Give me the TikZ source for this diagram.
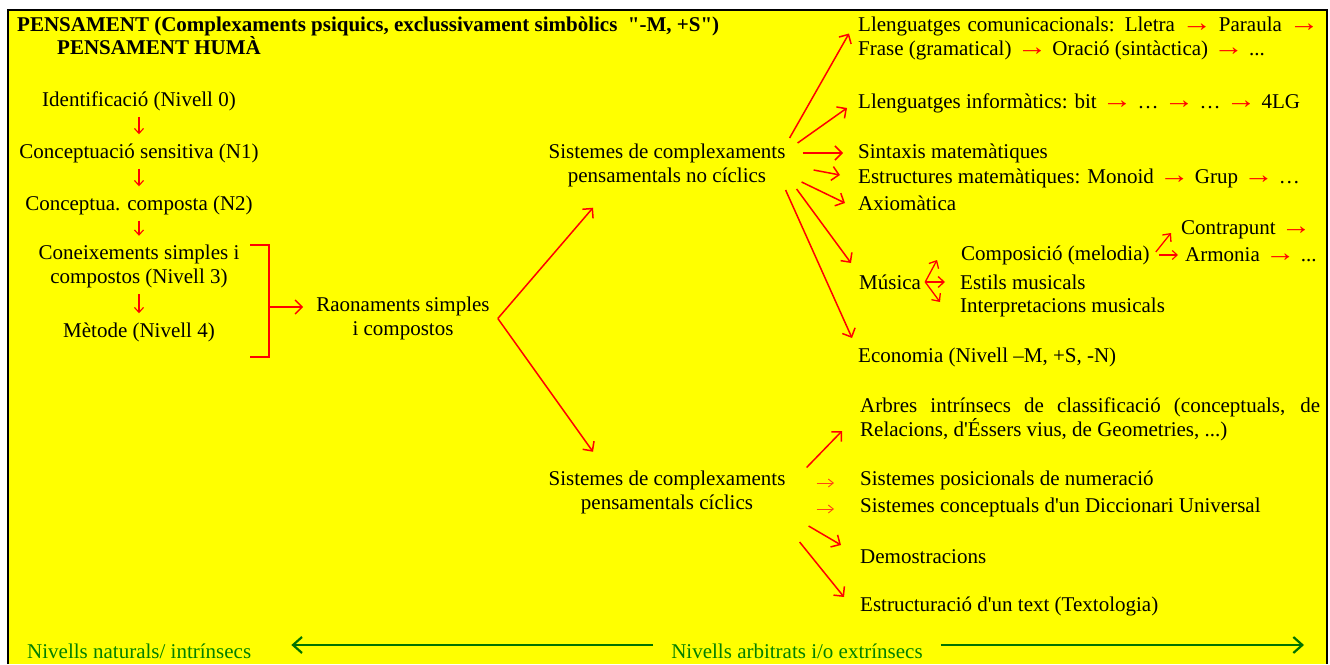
\documentclass[tikz,border=0pt]{standalone}
\usepackage{fontspec}
\setmainfont{Liberation Serif}[Ligatures=TeXOff]
\usetikzlibrary{arrows.meta}

\definecolor{fonsgroc}{RGB}{255,255,0}
\definecolor{verd}{RGB}{0,128,0}
\definecolor{verdfosc}{RGB}{0,115,0}
\definecolor{taronja}{RGB}{255,70,20}
\newcommand{\fl}{\textcolor{red}{\scalebox{1.45}[1.25]{→}}}

\tikzset{
  txt/.style={anchor=west},
  bigarrow/.style={draw=red, line width=1.5pt, -{Straight Barb[length=7pt,width=14pt]}},
  midarrow/.style={draw=red, line width=1.3pt, -{Straight Barb[length=6pt,width=11pt]}},
  smallarrow/.style={draw=red, line width=1.1pt, -{Straight Barb[length=5pt,width=9pt]}},
  thinarrow/.style={draw=taronja, line width=0.9pt, -{Straight Barb[length=5pt,width=8pt]}},
  greenarrow/.style={draw=verdfosc, line width=2.2pt, -{Straight Barb[length=9pt,width=16pt]}}
}

\begin{document}
\begin{tikzpicture}[x=1pt, y=1pt, every node/.style={inner sep=0pt, font=\fontsize{21}{24}\selectfont}]

  \useasboundingbox (0,0) rectangle (1330,-664);
  \fill[fonsgroc] (8,-10) rectangle (1327,-664);
  \draw[line width=2.5pt] (8,-664) -- (8,-10) -- (1327,-10) -- (1327,-664);

  \node[txt, font=\fontsize{21}{24}\selectfont\bfseries] (title) at (17,-26) {PENSAMENT (Complexaments psiquics, exclussivament simbòlics~ "-M, +S")};
  \node[txt, font=\fontsize{21}{24}\selectfont\bfseries] (human) at (57,-46) {PENSAMENT HUMÀ};

  % natural levels
  \node (n0) at (139,-101) {Identificació (Nivell 0)};
  \node (n1) at (139,-153) {Conceptuació sensitiva (N1)};
  \node (n2) at (139,-205) {Conceptua. composta (N2)};
  \node[align=center] (n3) at (139,-266.5) {Coneixements simples i\\compostos (Nivell 3)};
  \node (n4) at (139,-332) {Mètode (Nivell 4)};

  \foreach \a/\b in {n0/n1,n1/n2,n2/n3,n3/n4}
    \draw[smallarrow, shorten <=6pt, shorten >=9pt] (\a) -- (\b);

  \draw[red, line width=1.5pt] (250,-245) -| (269,-357) -- (250,-357);
  \coordinate (brk) at (269,-307);

  \node[align=center] (reason) at (403,-318.5) {Raonaments simples\\i compostos};
  \draw[bigarrow, shorten >=13pt] (brk) -- (brk -| reason.west);

  \coordinate (fork) at ([xshift=8pt]reason.east);

  \node[align=center] (nocyc) at (667,-165) {Sistemes de complexaments\\pensamentals no cíclics};
  \node[align=center] (cyc) at (667,-492.5) {Sistemes de complexaments\\pensamentals cíclics};

  \draw[bigarrow] (fork) -- ([shift={(-74,-21)}]nocyc.south);
  \draw[bigarrow] (fork) -- ([shift={(-74,19)}]cyc.north);

  % non cyclic systems
  \node[txt, text width=461pt, align=justify] (llc) at (858,-38.5) {Llenguatges comunicacionals: Lletra \fl{} Paraula \fl\linebreak Frase (gramatical) \fl{} Oració (sintàctica) \fl{} ...};
  \node[txt] (lli) at (858,-103) {Llenguatges informàtics: bit \fl{} … \fl{} … \fl{} 4LG};
  \node[txt] (sint) at (858,-153) {Sintaxis matemàtiques};
  \node[txt] (estr) at (858,-178) {Estructures matemàtiques: Monoid \fl{} Grup \fl{} …};
  \node[txt] (axio) at (858,-203) {Axiomàtica};
  \node[txt] (contra) at (1181,-230) {Contrapunt \fl};
  \node[txt] (comp) at (961,-255) {Composició (melodia)};
  \node[txt] (arm) at (1185,-255) {Armonia \fl{} ...};
  \node[txt] (musica) at (859,-282) {Música};
  \node[txt] (estils) at (960,-282) {Estils musicals};
  \node[txt] (interp) at (960,-307) {Interpretacions musicals};
  \node[txt] (econ) at (858,-357) {Economia (Nivell –M, +S, -N)};

  \draw[bigarrow] ([shift={(4,27)}]nocyc.east) -- ([shift={(-9,5)}]llc.west);
  \draw[bigarrow] ([shift={(12,22)}]nocyc.east) -- ([shift={(-11,-5)}]lli.west);
  \draw[bigarrow] ([shift={(17,12)}]nocyc.east) -- ([shift={(-15,0)}]sint.west);
  \draw[bigarrow] ([shift={(28,-5)}]nocyc.east) -- ([shift={(-18,3)}]estr.west);
  \draw[bigarrow] ([shift={(16,-17)}]nocyc.east) -- ([shift={(-13,0)}]axio.west);
  \draw[bigarrow] ([shift={(11,-24)}]nocyc.east) -- ([shift={(-8,19)}]musica.west);
  \draw[bigarrow] ([shift={(0,-25)}]nocyc.east) -- ([shift={(-6,19)}]econ.west);

  \coordinate (mfork) at ([xshift=4pt]musica.east);
  \draw[midarrow] (mfork) -- ([shift={(-24,-5)}]comp.west);
  \draw[midarrow] (mfork) -- ([xshift=-15pt]estils.west);
  \draw[midarrow] (mfork) -- ([shift={(-20,5)}]interp.west);

  \draw[midarrow] ([shift={(6,3)}]comp.east) -- ([shift={(-10,-3)}]contra.west);
  \draw[smallarrow, shorten <=9pt, shorten >=7pt] (comp.east) -- (arm.west);

  % cyclic systems
  \node[txt, text width=460pt, align=justify] (arbres) at (860,-419) {Arbres intrínsecs de classificació (conceptuals, de\linebreak Relacions, d'Éssers vius, de Geometries, ...)};
  \node[txt] (pos) at (860,-480) {Sistemes posicionals de numeració};
  \node[txt] (conc) at (860,-507) {Sistemes conceptuals d'un Diccionari Universal};
  \node[txt] (demo) at (860,-557) {Demostracions};
  \node[txt] (textol) at (860,-606) {Estructuració d'un text (Textologia)};

  \draw[bigarrow] ([shift={(21,25)}]cyc.east) -- ([shift={(-18,-12)}]arbres.west);
  \draw[thinarrow, shorten <=31pt, shorten >=26pt] ([yshift=-3pt]cyc.east |- pos.west) -- ([yshift=-3pt]pos.west);
  \draw[thinarrow, shorten <=31pt, shorten >=26pt] ([yshift=-2pt]cyc.east |- conc.west) -- ([yshift=-2pt]conc.west);
  \draw[bigarrow] ([shift={(23,-33.5)}]cyc.east) -- ([shift={(-19,12)}]demo.west);
  \draw[bigarrow] ([shift={(14,-49.5)}]cyc.east) -- ([shift={(-16,9)}]textol.west);

  % levels
  \node[txt, text=verd] (natural) at (27,-651) {Nivells naturals/ intrínsecs};
  \node[text=verd] (arbit) at (797,-651) {Nivells arbitrats i/o extrínsecs};
  \coordinate (rend) at (1304,-645);
  \draw[greenarrow] ([shift={(-18,6)}]arbit.west) -- ([shift={(40,6)}]natural.east);
  \draw[greenarrow] ([shift={(18,6)}]arbit.east) -- (rend);

\end{tikzpicture}
\end{document}
